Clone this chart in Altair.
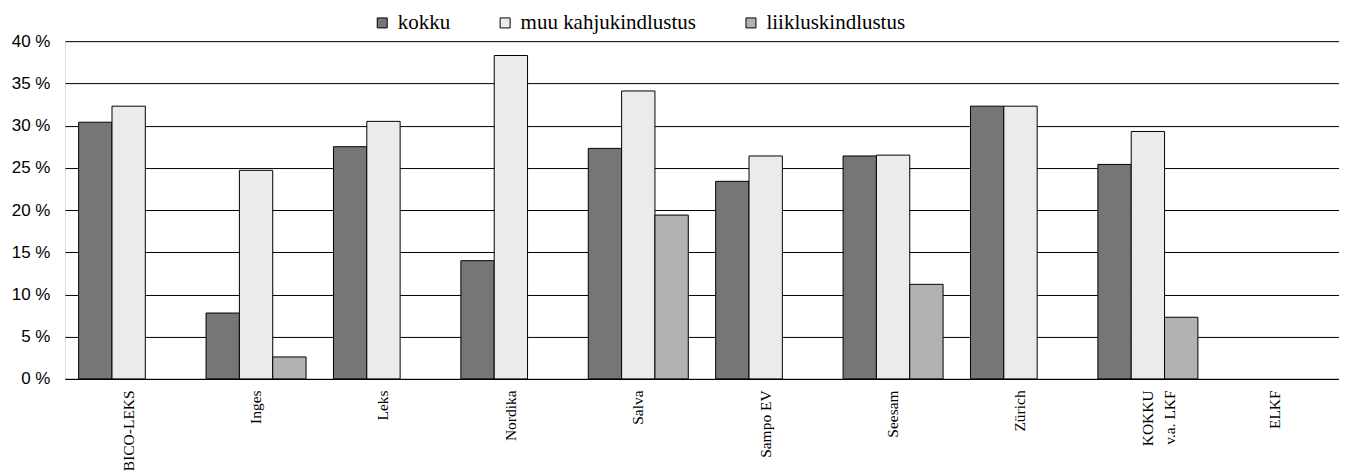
import altair as alt
import pandas as pd

categories = ["BICO-LEKS", "Inges", "Leks", "Nordika", "Salva", "Sampo EV",
              "Seesam", "Zürich", "KOKKU\nv.a. LKF", "ELKF"]
series = ["kokku", "muu kahjukindlustus", "liikluskindlustus"]
kokku = [30.4, 7.8, 27.5, 14.0, 27.3, 23.4, 26.4, 32.3, 25.4, None]
muu = [32.3, 24.7, 30.5, 38.3, 34.1, 26.4, 26.5, 32.3, 29.3, None]
liik = [None, 2.6, None, None, 19.4, None, 11.2, None, 7.3, None]
y_ticks = [0, 5, 10, 15, 20, 25, 30, 35, 40]
colors = ["#767676", "#ebebeb", "#b2b2b2"]

rows = []
for name, vals in zip(series, [kokku, muu, liik]):
    for c, v in zip(categories, vals):
        if v is not None:
            rows.append({"cat": c, "series": name, "value": v})
df = pd.DataFrame(rows)

chart = alt.Chart(df).mark_bar(stroke="black", strokeWidth=1).encode(
    x=alt.X("cat:N", sort=categories, title=None,
            scale=alt.Scale(domain=categories, paddingInner=0.215, paddingOuter=0.1075),
            axis=alt.Axis(labelAngle=-90, labelFont="Times New Roman", labelFontSize=15.5,
                          labelColor="black", ticks=False, domainColor="black",
                          labelPadding=11, labelExpr="split(datum.label, '\\n')",
                          labelLineHeight=22)),
    xOffset=alt.XOffset("series:N", sort=series, scale=alt.Scale(domain=series)),
    y=alt.Y("value:Q", title=None,
            scale=alt.Scale(domain=[0, 40], nice=False),
            axis=alt.Axis(values=y_ticks, labelExpr="datum.value + ' %'",
                          labelFont="Liberation Sans", labelFontSize=17, labelColor="black",
                          domain=False, ticks=False, labelPadding=15,
                          gridColor="black", gridOpacity=1, gridWidth=1)),
    fill=alt.Fill("series:N", sort=series,
                  scale=alt.Scale(domain=series, range=colors),
                  legend=alt.Legend(title=None, orient="none", direction="horizontal",
                                    legendX=307, legendY=-29,
                                    symbolType="square", symbolSize=100,
                                    symbolStrokeColor="black", symbolStrokeWidth=1,
                                    labelFont="Times New Roman", labelFontSize=21,
                                    labelColor="black", labelOffset=5,
                                    columnPadding=44, labelLimit=400)),
).properties(
    width=1275, height=338,
    autosize=alt.AutoSizeParams(type="none"),
    padding={"left": 57, "top": 33, "right": 0, "bottom": 95},
).configure_view(stroke=None).configure(background="white")

chart.save("out.html", embed_options={"renderer": "svg", "actions": False})
